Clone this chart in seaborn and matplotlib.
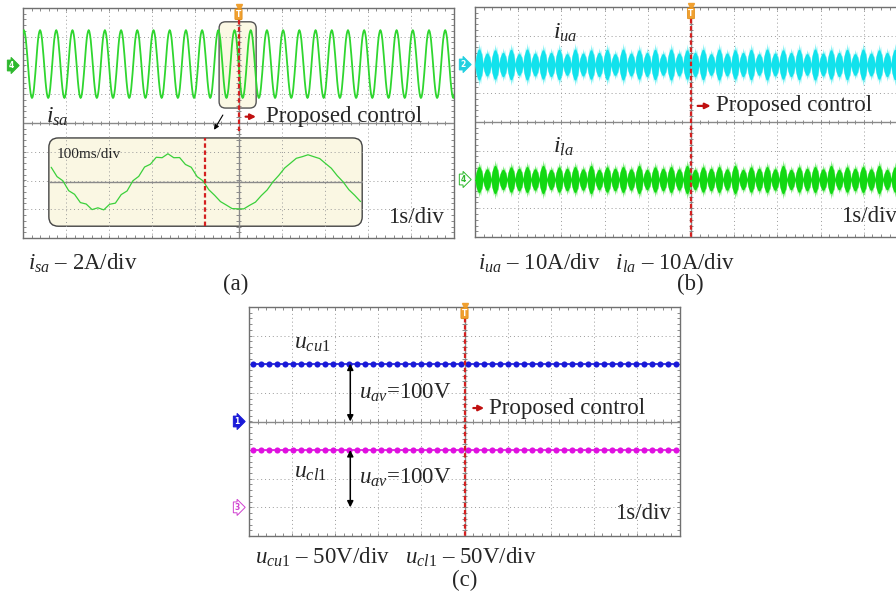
import numpy as np
import pandas as pd
import matplotlib
matplotlib.use("Agg")
import matplotlib.pyplot as plt
import seaborn as sns
from matplotlib.patches import FancyBboxPatch

sns.set_style("white")
plt.rcParams['font.family'] = ['Liberation Serif', 'DejaVu Serif']
plt.rcParams['mathtext.fontset'] = 'custom'
plt.rcParams['mathtext.rm'] = 'Liberation Serif'
plt.rcParams['mathtext.it'] = 'Liberation Serif:italic'
plt.rcParams['mathtext.bf'] = 'Liberation Serif:bold'

# --- DATA (scope divisions: x -5..5, y -4..4) ---
# one period of the grid current, 24 samples (normalised)
wave_cycle = [0.00, 0.27, 0.51, 0.72, 0.87, 0.96, 1.00, 0.96, 0.86, 0.71, 0.50, 0.26,
              0.00, -0.26, -0.50, -0.70, -0.86, -0.96, -1.00, -0.97, -0.87, -0.72, -0.51, -0.27]

# (a) i_sa at 1 s/div and the 100 ms/div zoom
isa_offset, isa_amp, isa_period, isa_first_peak, isa_cycles = 2.05, 1.18, 0.376, -4.98, 27
zoom_offset, zoom_amp, zoom_period, zoom_zero = -2.06, 0.94, 3.25, -2.45
zoom_box = [-4.40, 2.87, -3.59, -0.52]       # x0, x1, y0, y1
zoom_trigger = -0.78
ripple_before = [0.05, -0.05]
ripple_after = [0.015, -0.015]

# (b) arm currents: envelope heights of the beat bumps and one bump profile
iua_bumps = [1.00, 0.74, 0.95, 0.78, 0.98, 0.70]
ila_bumps = [0.92, 0.76, 1.00, 0.72, 0.90, 0.80]
bump_outer = [0.06, 0.50, 0.38, 0.82, 0.66, 1.00, 0.72, 0.90, 0.48, 0.56, 0.06]
bump_inner = [0.05, 0.30, 0.50, 0.62, 0.70, 0.72, 0.70, 0.62, 0.50, 0.30, 0.05]
n_bumps = 54
iua_center, iua_amp = 2.0, 0.75
ila_center, ila_amp = -2.0, 0.68

# (c) capacitor voltages (V), 50 V/div
v_per_div = 50
ucu1_v, ucl1_v = 101.0, 100.0
ch1_ref, ch3_ref = 0.0, -3.0
n_dots = 54

GRID = '#9a9a9a'
AXIS = '#8a8a8a'
TRIG = '#d42020'


def scope_screen(ax):
    ax.set_xlim(-5, 5); ax.set_ylim(-4, 4)
    ax.set_xticks([]); ax.set_yticks([])
    ax.set_facecolor('white')
    for v in [-4, -3, -2, -1, 1, 2, 3, 4]:
        ax.axvline(v, color=GRID, lw=0.7, ls=(0, (1, 3)), zorder=2)
    for h in [-3, -2, -1, 1, 2, 3]:
        ax.axhline(h, color=GRID, lw=0.7, ls=(0, (1, 3)), zorder=2)
    ax.axhline(0, color=AXIS, lw=1.0, zorder=2)
    ax.axvline(0, color=AXIS, lw=1.0, zorder=2)
    mx = np.arange(-5, 5.01, 0.2)
    my = np.arange(-4, 4.01, 0.2)
    ax.vlines(mx, -0.08, 0.08, color=AXIS, lw=0.7, zorder=2)
    ax.hlines(my, -0.05, 0.05, color=AXIS, lw=0.7, zorder=2)
    ax.vlines(mx, -4, -3.9, color=AXIS, lw=0.7, zorder=2)
    ax.vlines(mx, 3.9, 4, color=AXIS, lw=0.7, zorder=2)
    ax.hlines(my, -5, -4.94, color=AXIS, lw=0.7, zorder=2)
    ax.hlines(my, 4.94, 5, color=AXIS, lw=0.7, zorder=2)
    for s in ax.spines.values():
        s.set_color('#707070'); s.set_linewidth(1.0)


def trigger(ax, y_end=-4):
    ax.plot([0, 0], [3.6, y_end], color=TRIG, lw=1.6, ls=(0, (2, 1.2)), zorder=5)
    ax.plot([0], [4.02], marker='v', color='#f0a030', ms=5, clip_on=False, zorder=7)
    ax.text(0, 3.78, 'T', ha='center', va='center', fontsize=5.5, color='white',
            fontweight='bold', family='DejaVu Sans', zorder=7, clip_on=False,
            bbox=dict(boxstyle='round,pad=0.12', fc='#f0a030', ec='#e08a10', lw=0.5))


def channel_tag(ax, y, label, color, filled=True):
    ax.text(-5.22, y, label, ha='right', va='center', fontsize=5.5, family='DejaVu Sans',
            fontweight='bold', color='white' if filled else color, clip_on=False, zorder=7,
            bbox=dict(boxstyle='rarrow,pad=0.12', fc=color if filled else 'white', ec=color, lw=0.7))


def proposed(ax, x0, x1, xt, y):
    ax.annotate('', xy=(x1, y), xytext=(x0, y),
                arrowprops=dict(arrowstyle='-|>', color='#c01010', lw=1.6, mutation_scale=8), zorder=6)
    ax.text(xt, y, 'Proposed control', ha='left', va='center', fontsize=16.5, zorder=6)


def envelope(bumps, profile):
    xs, env = [], []
    w = 10.0 / n_bumps
    m = len(profile) - 1
    for j in range(n_bumps):
        for i, p in enumerate(profile):
            xs.append(-5 + j * w + i * w / m)
            env.append(bumps[j % len(bumps)] * p)
    return np.array(xs), np.array(env)


def band(ax, bumps, center, amp, color_out, color_in):
    xs, env = envelope(bumps, bump_outer)
    ax.fill_between(xs, center - amp * env, center + amp * env, color=color_out, lw=0, zorder=3)
    xs, env = envelope(bumps, bump_inner)
    ax.fill_between(xs, center - amp * env, center + amp * env, color=color_in, lw=0, zorder=3)
    sns.lineplot(x=xs, y=np.full(len(xs), center), ax=ax, color=color_in, lw=0.8,
                 estimator=None, sort=False, legend=False, zorder=3)


fig = plt.figure(figsize=(8.96, 5.96), dpi=100)


def px_axes(left, top, right, bottom):
    return fig.add_axes([left / 896, 1 - bottom / 596, (right - left) / 896, (bottom - top) / 596])


# ---------------- (a) ----------------
ax_a = px_axes(23, 8, 454, 238)
scope_screen(ax_a)
# small highlight box around the trigger
ax_a.add_patch(FancyBboxPatch((-0.45, 0.52), 0.86, 3.0, boxstyle='round,pad=0,rounding_size=0.15',
                              mutation_aspect=1.5, fc='#fbf8e4', ec='#555555', lw=1.0, zorder=1.5))
# zoom inset
x0, x1, y0, y1 = zoom_box
ax_a.add_patch(FancyBboxPatch((x0, y0), x1 - x0, y1 - y0, boxstyle='round,pad=0,rounding_size=0.22',
                              mutation_aspect=1.5, fc='#faf7e3', ec='#444444', lw=1.0, zorder=1.5))
ax_a.plot([x0, x1], [zoom_offset, zoom_offset], color=AXIS, lw=1.0, zorder=2.5)

n = len(wave_cycle)
k = np.arange(isa_cycles * n + n)
isa_x = isa_first_peak + (k - 6) * isa_period / n
isa_y = isa_offset + isa_amp * np.array([wave_cycle[i % n] for i in k])
df_isa = pd.DataFrame({'t': isa_x, 'i': isa_y})
sns.lineplot(data=df_isa, x='t', y='i', ax=ax_a, color='#2fd62f', lw=1.3,
             estimator=None, sort=False, legend=False, zorder=4)

k_min = int(np.ceil((x0 - zoom_zero) / zoom_period * n))
k_max = int(np.floor((x1 - zoom_zero) / zoom_period * n))
kz = np.arange(k_min, k_max + 1)
zx = zoom_zero + kz * zoom_period / n
zy = []
for kk, xx in zip(kz, zx):
    rip = ripple_before[kk % 2] if xx < zoom_trigger else ripple_after[kk % 2]
    zy.append(zoom_offset + zoom_amp * wave_cycle[kk % n] + rip)
sns.lineplot(x=zx, y=zy, ax=ax_a, color='#3ad03a', lw=0.9, estimator=None, sort=False,
             legend=False, zorder=4)
ax_a.plot([zoom_trigger, zoom_trigger], [y0, y1], color=TRIG, lw=1.6, ls=(0, (2, 1.2)), zorder=5)
ax_a.text(-4.21, -1.11, '100ms/div', ha='left', va='center', fontsize=11, zorder=6)

trigger(ax_a, y_end=-0.3)
channel_tag(ax_a, 2.0, '4', '#2db82d')
ax_a.text(-4.46, 0.2, '$i_{sa}$', ha='left', va='center', fontsize=17, zorder=6)
proposed(ax_a, 0.1, 0.47, 0.64, 0.22)
ax_a.annotate('', xy=(-0.6, -0.32), xytext=(-0.33, 0.36),
              arrowprops=dict(arrowstyle='-|>', color='black', lw=0.8, mutation_scale=7), zorder=6)
ax_a.text(3.47, -3.28, '1s/div', ha='left', va='center', fontsize=16.5, zorder=6)

# ---------------- (b) ----------------
ax_b = px_axes(475, 7, 907, 237)
scope_screen(ax_b)
band(ax_b, iua_bumps, iua_center, iua_amp, '#86f2f4', '#12e2ec')
band(ax_b, ila_bumps, ila_center, ila_amp, '#80ec80', '#12d812')
trigger(ax_b)
channel_tag(ax_b, 2.0, '2', '#20d0e0')
channel_tag(ax_b, -2.0, '4', '#2db82d', filled=False)
ax_b.text(-3.19, 3.1, '$i_{ua}$', ha='left', va='center', fontsize=17, zorder=6)
ax_b.text(-3.19, -0.86, '$i_{la}$', ha='left', va='center', fontsize=17, zorder=6)
proposed(ax_b, 0.09, 0.52, 0.58, 0.56)
ax_b.text(3.47, -3.28, '1s/div', ha='left', va='center', fontsize=16.5, zorder=6)

# ---------------- (c) ----------------
ax_c = px_axes(249, 307, 680, 536)
scope_screen(ax_c)
tx = -5 + (np.arange(n_dots) + 0.5) * 10.0 / n_dots
ucu1_div = ch1_ref + np.array([ucu1_v] * n_dots) / v_per_div
ucl1_div = ch3_ref + np.array([ucl1_v] * n_dots) / v_per_div
sns.lineplot(x=tx, y=ucu1_div, ax=ax_c, color='#1a1ad8', lw=1.2, marker='o', ms=4.4, mew=0,
             estimator=None, sort=False, legend=False, zorder=4)
sns.lineplot(x=tx, y=ucl1_div, ax=ax_c, color='#e010e0', lw=1.2, marker='o', ms=4.4, mew=0,
             estimator=None, sort=False, legend=False, zorder=4)
trigger(ax_c)
channel_tag(ax_c, ch1_ref, '1', '#1a1ad8')
channel_tag(ax_c, ch3_ref, '3', '#d040d0', filled=False)
for ytop, ybot, ylab in [(ucu1_div[0], ch1_ref, 1.0), (ucl1_div[0], ch3_ref, -1.98)]:
    ax_c.annotate('', xy=(-2.65, ybot), xytext=(-2.65, ytop),
                  arrowprops=dict(arrowstyle='<|-|>', color='black', lw=1.1, mutation_scale=9,
                                  shrinkA=0, shrinkB=0), zorder=6)
    ax_c.text(-2.44, ylab, '$u_{av}$=100V', ha='left', va='center', fontsize=16.5, zorder=6)
ax_c.text(-3.95, 2.74, r'$u_{cu\mathrm{1}}$', ha='left', va='center', fontsize=17, zorder=6)
ax_c.text(-3.95, -1.77, r'$u_{cl\mathrm{1}}$', ha='left', va='center', fontsize=17, zorder=6)
proposed(ax_c, 0.14, 0.52, 0.56, 0.47)
ax_c.text(3.49, -3.2, '1s/div', ha='left', va='center', fontsize=16.5, zorder=6)

# ---------------- captions ----------------
def ftext(x, y, s, ha='left'):
    fig.text(x / 896, 1 - y / 596, s, ha=ha, va='center', fontsize=16.5)

ftext(28, 263, '$i_{sa}$ – 2A/div')
ftext(236, 284, '(a)', ha='center')
ftext(478, 263, '$i_{ua}$ – 10A/div   $i_{la}$ – 10A/div')
ftext(690, 284, '(b)', ha='center')
ftext(255, 557, r'$u_{cu\mathrm{1}}$ – 50V/div   $u_{cl\mathrm{1}}$ – 50V/div')
ftext(465, 580, '(c)', ha='center')

fig.savefig('out.png', dpi=100, facecolor='white')
